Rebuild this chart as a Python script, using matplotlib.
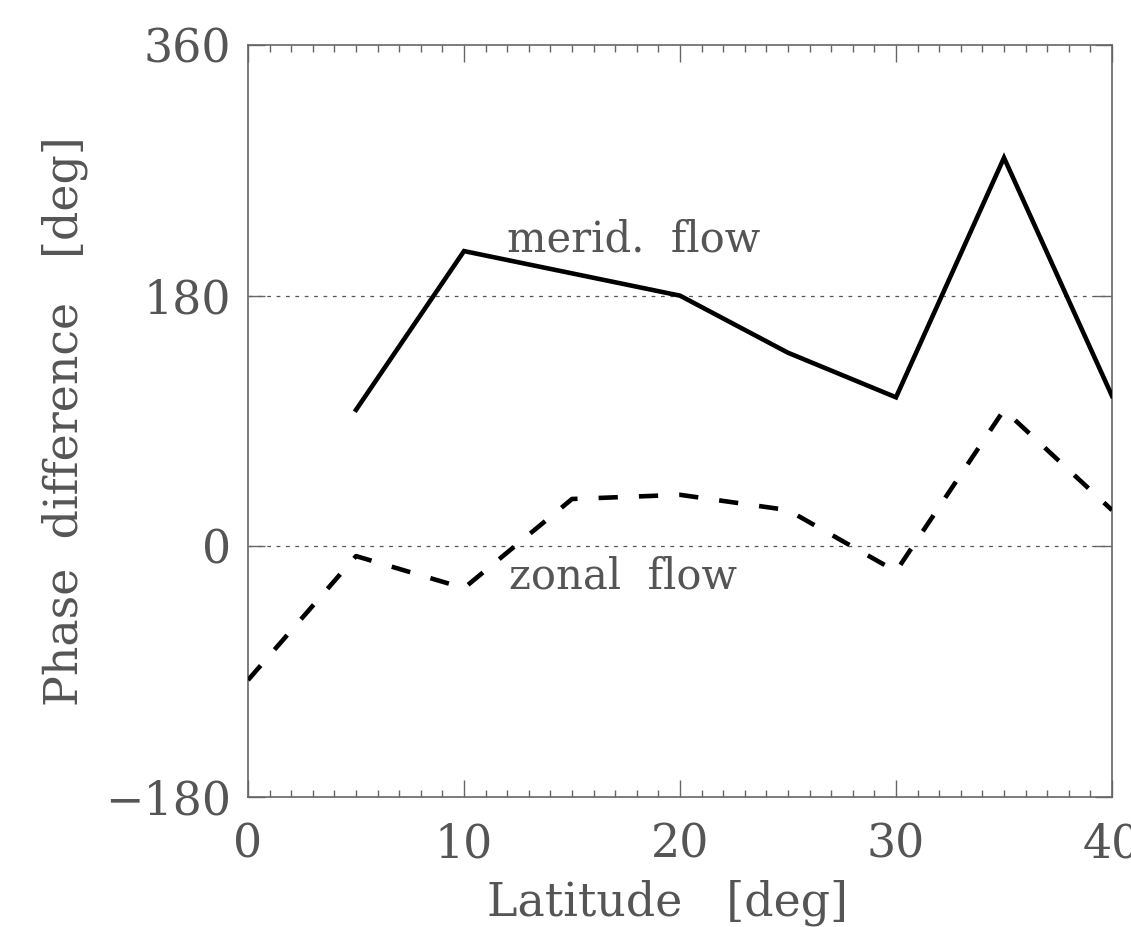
import matplotlib
matplotlib.use("Agg")
import matplotlib.pyplot as plt
from matplotlib.ticker import MultipleLocator, FixedLocator

# latitude samples [deg]
lat_merid = [5, 10, 15, 20, 25, 30, 35, 40]
phase_merid = [98, 212, 196, 180, 139, 107, 279, 108]

lat_zonal = [0, 5, 10, 15, 20, 25, 30, 35, 40]
phase_zonal = [-96, -7, -30, 34, 37, 26, -18, 98, 26]

ref_levels = [0, 180]
yticks = [-180, 0, 180, 360]
xticks = [0, 10, 20, 30, 40]

txt = "#555555"
plt.rcParams["font.family"] = ["DejaVu Serif"]

fig = plt.figure(figsize=(11.31, 9.27), dpi=100)
ax = fig.add_axes([0.2193, 0.1402, 0.9832 - 0.2193, 0.9515 - 0.1402])

for lv in ref_levels:
    ax.axhline(lv, color="#555555", lw=0.9, dashes=(3, 4.5), zorder=1)

ax.plot(lat_merid, phase_merid, color="black", lw=3.3, solid_joinstyle="miter", zorder=3)
ax.plot(lat_zonal, phase_zonal, color="black", lw=3.3, dashes=(4.2, 4.6), zorder=3)

ax.text(12.0, 212, "merid.  flow", fontsize=30, color=txt, va="baseline")
ax.text(12.1, -30, "zonal  flow", fontsize=30, color=txt, va="baseline")

ax.set_xlim(0, 40)
ax.set_ylim(-180, 360)
ax.xaxis.set_major_locator(FixedLocator(xticks))
ax.xaxis.set_minor_locator(MultipleLocator(1))
ax.yaxis.set_major_locator(FixedLocator(yticks))
ax.set_yticklabels(["\u2212180", "0", "180", "360"])

for s in ax.spines.values():
    s.set_color("#666666")
    s.set_linewidth(1.2)

ax.tick_params(which="both", direction="in", top=True, right=True, color="#666666",
               labelsize=33, labelcolor=txt, width=1.0)
ax.tick_params(which="major", length=12)
ax.tick_params(which="minor", length=5)
ax.tick_params(axis="x", which="major", pad=18)
ax.tick_params(axis="y", which="major", pad=12)

ax.set_xlabel("Latitude   [deg]", fontsize=33, color=txt, va="center")
ax.set_ylabel("Phase  difference   [deg]", fontsize=33, color=txt, va="center")
ax.xaxis.set_label_coords(0.485, -0.14)
ax.yaxis.set_label_coords(-0.212, 0.5)

fig.savefig("out.png", dpi=100)
